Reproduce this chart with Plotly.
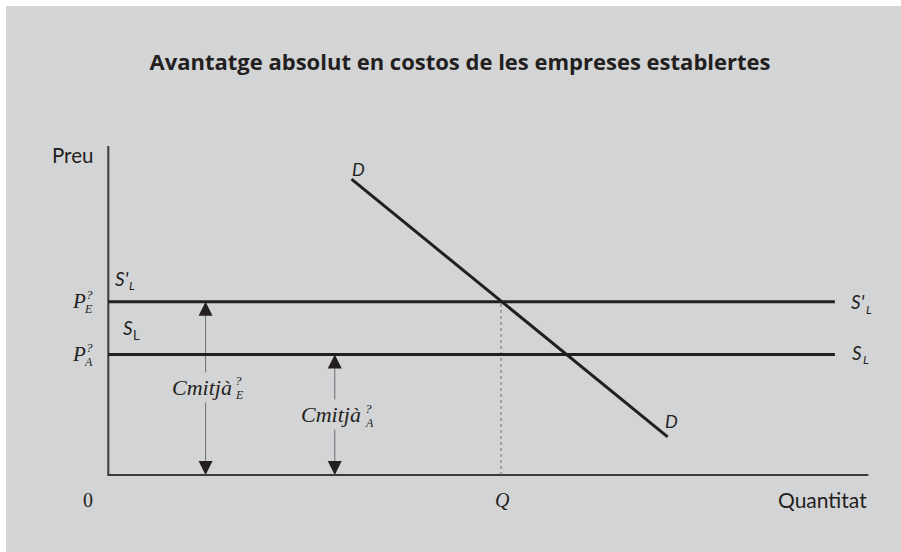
import plotly.graph_objects as go

# ---------------- data (economic units) ----------------
x_axis_len = 10.0
y_axis_len = 10.03
price_E = 5.28          # P_E? (established firms / entrants price)
price_A = 3.67          # P_A?
supply_end = 9.56
q_eq = 5.167
demand_x = [3.20, 7.36]
demand_y = [9.02, 1.16]
arrow_x = [1.28, 2.98]          # Cmitjà_E, Cmitjà_A arrows
arrow_top = [price_E, price_A]

title_text = "Avantatge absolut en costos de les empreses establertes"
y_label = "Preu"
x_label = "Quantitat"

# ---------------- geometry ----------------
W, H = 901, 552
ML, MT, MR, MB = 6, 6, 0, 0
ORIG_PX = (108.3, 475.0)
SX, SY = 76.0, 32.8   # px per unit
x_range = [(ML - ORIG_PX[0]) / SX, (W - MR - ORIG_PX[0]) / SX]
y_range = [(ORIG_PX[1] - (H - MB)) / SY, (ORIG_PX[1] - MT) / SY]

BG = "#d3d4d6"
INK = "#231f20"
GREY = "#6d6e70"

fig = go.Figure()

# axes
fig.add_trace(go.Scatter(x=[0, 0, x_axis_len], y=[y_axis_len, 0, 0], mode="lines",
                         line=dict(color="#3c3a3b", width=2), hoverinfo="skip"))
# dotted Q line
fig.add_trace(go.Scatter(x=[q_eq, q_eq], y=[0, price_E], mode="lines",
                         line=dict(color=GREY, width=1, dash="dot"), hoverinfo="skip"))
# arrow shafts
for ax_, top in zip(arrow_x, arrow_top):
    fig.add_trace(go.Scatter(x=[ax_, ax_], y=[0, top], mode="lines",
                             line=dict(color=GREY, width=1), hoverinfo="skip"))
# supply lines
for p in [price_E, price_A]:
    fig.add_trace(go.Scatter(x=[0, supply_end], y=[p, p], mode="lines",
                             line=dict(color=INK, width=3), hoverinfo="skip"))
# demand
fig.add_trace(go.Scatter(x=demand_x, y=demand_y, mode="lines",
                         line=dict(color=INK, width=3), hoverinfo="skip"))
# arrow heads
fig.add_trace(go.Scatter(x=arrow_x, y=arrow_top, mode="markers",
                         marker=dict(symbol="arrow-up", size=14, color=INK, line=dict(width=0)),
                         hoverinfo="skip"))
fig.add_trace(go.Scatter(x=arrow_x, y=[0, 0], mode="markers",
                         marker=dict(symbol="arrow-down", size=14, color=INK, line=dict(width=0)),
                         hoverinfo="skip"))

SANS = "Lato"
SERIF = "Liberation Serif"


def lab(xd, yd, dx, dy, text, size, family, style="normal", xanchor="center",
        bg=None, weight="normal"):
    kw = {}
    if bg:
        kw = dict(bgcolor=bg, borderpad=2)
    else:
        kw = dict(borderpad=0)
    fig.add_annotation(x=xd, y=yd, xref="x", yref="y", text=text, showarrow=False,
                       xanchor=xanchor, yanchor="middle", xshift=dx, yshift=-dy,
                       font=dict(family=family, size=size, color=INK, style=style,
                                 weight=weight), **kw)


# axis labels
lab(0, y_axis_len, -36.3, 9, y_label, 20.5, SANS)
lab(x_axis_len, 0, 0, 24, x_label, 21, SANS, xanchor="right")
lab(0, 0, -20.3, 25, "0", 20, SERIF)
lab(q_eq, 0, 2, 25, "Q", 20, SERIF, style="italic")

# price labels
for p, sub in [(price_E, "E"), (price_A, "A")]:
    lab(0, p, -29.8, -0.5, "P", 21, SERIF, style="italic")
    lab(0, p, -19.3, -7.5, "?", 13, SERIF, style="italic")
    lab(0, p, -19.8, 7.5, sub, 12, SERIF, style="italic")

# supply labels (left)
lab(0, price_E, 13.4, -23.7, "S'", 19, SANS, style="italic")
lab(0, price_E, 23.9, -16.7, "L", 12, SANS, style="italic")
lab(0, price_A, 19.7, -27.2, "S", 19, SANS, style="italic")
lab(0, price_A, 27.7, -19.7, "L", 13, SANS)
# supply labels (right)
lab(supply_end, price_E, 23.2, -0.7, "S'", 19, SANS, style="italic")
lab(supply_end, price_E, 33.7, 7.3, "L", 12, SANS, style="italic")
lab(supply_end, price_A, 22, -2.2, "S", 19, SANS, style="italic")
lab(supply_end, price_A, 31.5, 5.3, "L", 12, SANS, style="italic")

# demand labels
lab(demand_x[0], demand_y[0], 7.3, -10.3, "D", 18, SANS, style="italic")
lab(demand_x[1], demand_y[1], 3.5, -15.5, "D", 18, SANS, style="italic")

# cost labels on arrows
for ax_, top, sub, dy0 in [(arrow_x[0], price_E, "E", -1.4), (arrow_x[1], price_A, "A", 0)]:
    lab(ax_, top / 2, -3.3, dy0, "Cmitjà", 22, SERIF, style="italic", bg=BG)
    lab(ax_, top / 2, 33.3, dy0 - 6.8, "?", 13, SERIF, style="italic")
    lab(ax_, top / 2, 34.3, dy0 + 7.8, sub, 12, SERIF, style="italic")

fig.update_layout(
    width=W, height=H,
    margin=dict(l=ML, r=MR, t=MT, b=MB),
    paper_bgcolor="white", plot_bgcolor=BG,
    showlegend=False,
    title=dict(text=title_text, x=460 / W, y=1 - 62 / H, xanchor="center", yanchor="middle",
               font=dict(family="Open Sans", size=22, color=INK, weight="bold")),
    xaxis=dict(range=x_range, visible=False, fixedrange=True),
    yaxis=dict(range=y_range, visible=False, fixedrange=True),
)

fig.write_html(
    "out.html",
    config={"displayModeBar": False},
    post_script="document.body.style.margin='0px';document.body.style.padding='0px';"
                "document.documentElement.style.overflow='hidden';",
)
